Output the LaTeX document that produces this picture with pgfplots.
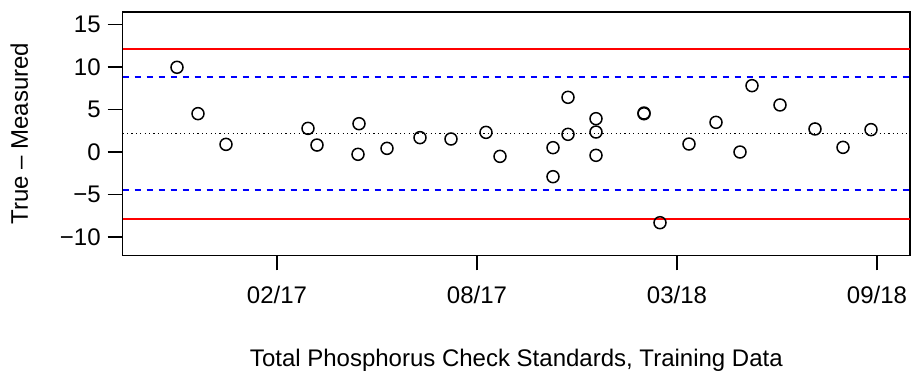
\documentclass[border=0pt]{standalone}
\usepackage{fontspec}
\setmainfont{Liberation Sans}
\usepackage{pgfplots}
\pgfplotsset{compat=1.18}
\definecolor{rred}{RGB}{255,0,0}
\definecolor{rblue}{RGB}{0,0,255}
\begin{document}
\begin{tikzpicture}[font=\fontsize{12}{14}\selectfont]
  % fix the page to the reference's proportions (2 px per pt)
  \path[use as bounding box] (-61.35pt,-58.85pt) rectangle (394.15pt,127.65pt);
  \begin{axis}[
      at={(0,0)}, anchor=south west,
      scale only axis,
      width=393.65pt, height=121.65pt,
      xmin=-154.3, xmax=633,
      ymin=-12.14, ymax=16.46,
      xtick={0,200,400,600},
      xticklabels={02/17,08/17,03/18,09/18},
      ytick={-10,-5,0,5,10,15},
      % trailing space pushes the labels away from the ticks, as in R
      yticklabels={−10\hspace{4.5pt},−5\hspace{4.5pt},0\hspace{4.5pt},5\hspace{4.5pt},10\hspace{4.5pt},15\hspace{4.5pt}},
      tick pos=left,
      tick align=outside,
      major tick length=7.5pt,
      every tick/.style={black, line width=0.75pt},
      axis line style={line width=0.75pt},
      every x tick label/.append style={anchor=base, inner sep=0pt, yshift=-16.85pt},
      every y tick label/.append style={anchor=east},
      xlabel={Total Phosphorus Check Standards, Training Data},
      ylabel={True – Measured},
      xlabel style={at={(axis description cs:0.5,0)}, anchor=base, inner sep=0pt, yshift=-55.85pt},
      ylabel style={at={([xshift=-47.35pt]axis description cs:0,0.5)}, anchor=base, inner sep=0pt},
    ]
    % control limits: mean, +-2 sd, +-3 sd
    \addplot[draw=rred, line width=0.8pt] coordinates {(-154.3,12.1) (633,12.1)};
    \addplot[draw=rred, line width=0.8pt] coordinates {(-154.3,-7.85) (633,-7.85)};
    \addplot[draw=rblue, line width=1pt, dash pattern=on 3pt off 3pt] coordinates {(-154.3,-4.5) (633,-4.5)};
    \addplot[draw=rblue, line width=1pt, dash pattern=on 3pt off 3pt] coordinates {(-154.3,8.78) (633,8.78)};
    \addplot[draw=black, line width=0.6pt, dash pattern=on 0.6pt off 1.6pt] coordinates {(-154.3,2.15) (633,2.15)};

    \addplot[only marks, mark=o, mark size=3pt, mark options={black, line width=0.75pt}] coordinates {
      (-100,9.96) (-79,4.51) (-51,0.90) (31,2.78) (40,0.82)
      (82,3.33) (81,-0.27) (110,0.43) (143,1.69) (174,1.53)
      (209,2.31) (223,-0.51) (276,0.51) (276,-2.90) (291,6.43)
      (291,2.08) (319,3.92) (319,2.35) (319,-0.39) (367,4.50)
      (367,4.58) (383,-8.31) (412,0.94) (439,3.49) (463,0.00)
      (475,7.80) (503,5.53) (538,2.71) (566,0.55) (594,2.63)
    };
  \end{axis}
\end{tikzpicture}
\end{document}
